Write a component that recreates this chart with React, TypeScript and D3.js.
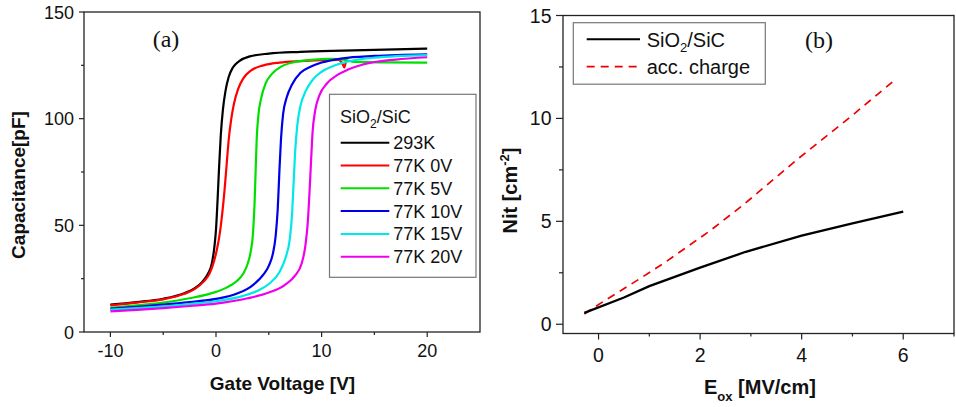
import React from "react";
import * as d3 from "d3";

// ---------- Panel (a) data: C-V curves [gate voltage V, capacitance pF] ----------
const seriesNamesA = ["293K", "77K 0V", "77K 5V", "77K 10V", "77K 15V", "77K 20V"];
const seriesColorsA = ["#000000", "#ff0000", "#00e000", "#0000e8", "#00e8e8", "#ee00ee"];

const cv293K: [number, number][] = [
  [-10, 12.8], [-7.5, 14.0], [-5, 15.6], [-3, 18.2], [-2, 20.5], [-1.3, 23.5], [-0.8, 27], [-0.4, 32],
  [-0.15, 40], [0, 48], [0.15, 62], [0.3, 78], [0.45, 92], [0.65, 104], [0.9, 113], [1.2, 119.5],
  [1.6, 124], [2.2, 127], [3.2, 129.2], [5, 130.5], [8, 131.3], [12, 131.9], [16, 132.4], [20, 132.8],
];
const cv77K0V: [number, number][] = [
  [-10, 12.5], [-7.5, 13.8], [-5, 15.3], [-3, 17.9], [-2, 20.2], [-1.2, 23.5], [-0.6, 27.5], [-0.2, 33],
  [0.1, 39], [0.35, 46], [0.6, 56], [0.8, 66], [1.0, 78], [1.2, 90], [1.45, 100], [1.7, 107], [2.1, 114],
  [2.6, 119], [3.3, 122.5], [4.5, 125], [6, 126.3], [8, 127], [10, 127.4], [11.6, 127.6], [12.0, 125.5],
  [12.15, 124], [12.3, 126.8],
];
const cv77K5V: [number, number][] = [
  [-10, 11.3], [-7.5, 12.5], [-5, 13.8], [-2.5, 15.8], [0, 18.8], [1, 20.8], [2, 24], [2.6, 27.5], [3.0, 32],
  [3.3, 38], [3.5, 46], [3.65, 60], [3.75, 75], [3.85, 90], [4.0, 101], [4.3, 110], [4.7, 116.5], [5.3, 121],
  [6.2, 124.5], [7.5, 126.6], [9, 127.6], [11, 128], [12.2, 127.6], [13, 126.6], [16, 126.4], [20, 126.3],
];
const cv77K10V: [number, number][] = [
  [-10, 10.9], [-7.5, 11.8], [-5, 12.8], [-2.5, 14], [0, 15.5], [2, 18], [3.5, 22], [4.5, 27], [5, 31],
  [5.4, 37], [5.65, 45], [5.85, 58], [6.0, 75], [6.15, 90], [6.35, 102], [6.7, 110], [7.2, 116], [8, 121.5],
  [9, 124.5], [10, 126.3], [12, 128.3], [15, 129.4], [20, 130.2],
];
const cv77K15V: [number, number][] = [
  [-10, 10.5], [-7.5, 11.2], [-5, 12], [-2.5, 13.1], [0, 14.4], [2.5, 16.8], [4, 19.5], [5, 22.5], [6, 28],
  [6.6, 35], [7.0, 44], [7.2, 55], [7.35, 70], [7.5, 85], [7.7, 97], [8, 106], [8.5, 113], [9.2, 118.5],
  [10, 122], [11, 124.5], [12.5, 126.8], [15, 128.6], [20, 129.8],
];
const cv77K20V: [number, number][] = [
  [-10, 9.7], [-7.5, 10.4], [-5, 11.2], [-2.5, 12.2], [0, 13.3], [3, 15.8], [5, 18.5], [6.5, 22], [7.5, 26.5],
  [8.1, 32], [8.45, 40], [8.7, 52], [8.85, 65], [9.0, 80], [9.15, 94], [9.4, 104], [9.8, 111], [10.5, 116.5],
  [11.5, 120.5], [12.5, 123], [14, 125.5], [17, 127.7], [20, 128.8],
];
const seriesA = [cv293K, cv77K0V, cv77K5V, cv77K10V, cv77K15V, cv77K20V];

const xTicksA = [-10, 0, 10, 20];
const xMinorA = [-5, 5, 15];
const yTicksA = [0, 50, 100, 150];
const yMinorA = [25, 75, 125];

// ---------- Panel (b) data: Nit vs Eox ----------
const eoxSiC = [-0.28, 0.5, 1, 2, 2.9, 4, 5, 6];
const nitSiC = [0.55, 1.3, 1.85, 2.75, 3.52, 4.3, 4.9, 5.47];
const eoxAcc = [-0.28, 0.085, 0.45, 0.9, 1.3, 2.2, 2.85, 3.96, 4.9, 5.85];
const nitAcc = [0.5, 1.09, 1.65, 2.35, 2.99, 4.55, 5.8, 8.1, 9.95, 11.9];

const xTicksB = [0, 2, 4, 6];
const xMinorB = [1, 3, 5, 7];
const yTicksB = [0, 5, 10, 15];
const yMinorB = [2.5, 7.5, 12.5];

const SANS = "'Liberation Sans', Arial, sans-serif";
const SERIF = "'Liberation Serif', 'Times New Roman', serif";

export default function App() {
  // scales
  const xA = d3.scaleLinear().domain([-12.5, 25]).range([84, 480]);
  const yA = d3.scaleLinear().domain([0, 150]).range([332, 12]);
  const xB = d3.scaleLinear().domain([-0.7, 7]).range([563, 954]);
  const yB = d3.scaleLinear().domain([-0.45, 15]).range([333.5, 15.5]);

  const lineA = d3
    .line<[number, number]>()
    .x((d) => xA(d[0]))
    .y((d) => yA(d[1]))
    .curve(d3.curveMonotoneX);

  const lineB = d3
    .line<[number, number]>()
    .x((d) => xB(d[0]))
    .y((d) => yB(d[1]))
    .curve(d3.curveLinear);

  const siPts = eoxSiC.map((e, i) => [e, nitSiC[i]] as [number, number]);
  const accPts = eoxAcc.map((e, i) => [e, nitAcc[i]] as [number, number]);

  const axisColor = "#222";
  const [ax0, ax1] = xA.range();
  const [ay0, ay1] = yA.range();
  const [bx0, bx1] = xB.range();
  const [by0, by1] = yB.range();

  const legendRowsA = seriesNamesA.map((n, i) => ({ n, c: seriesColorsA[i], y: 142.7 + i * 22.8 }));

  return (
    <svg width={956} height={407} style={{ display: "block", position: "absolute", left: 0, top: 0 }}>
      <rect x={0} y={0} width={956} height={407} fill="#fff" />

      {/* ===== Panel (a) ===== */}
      <g>
        {seriesA.map((s, i) => (
          <path key={i} d={lineA(s) || ""} fill="none" stroke={seriesColorsA[i]} strokeWidth={2.2} />
        ))}
        <rect x={ax0} y={ay1} width={ax1 - ax0} height={ay0 - ay1} fill="none" stroke={axisColor} strokeWidth={1.3} />
        {xTicksA.map((t) => (
          <g key={t}>
            <line x1={xA(t)} x2={xA(t)} y1={ay0} y2={ay0 + 5} stroke={axisColor} strokeWidth={1.2} />
            <text x={xA(t)} y={357} fontFamily={SANS} fontSize={18} textAnchor="middle" fill="#111">
              {t}
            </text>
          </g>
        ))}
        {xMinorA.map((t) => (
          <line key={t} x1={xA(t)} x2={xA(t)} y1={ay0} y2={ay0 + 3} stroke={axisColor} strokeWidth={1.2} />
        ))}
        {yTicksA.map((t) => (
          <g key={t}>
            <line x1={ax0 - 5} x2={ax0} y1={yA(t)} y2={yA(t)} stroke={axisColor} strokeWidth={1.2} />
            <text x={74} y={yA(t) + 6.5} fontFamily={SANS} fontSize={18} textAnchor="end" fill="#111">
              {t}
            </text>
          </g>
        ))}
        {yMinorA.map((t) => (
          <line key={t} x1={ax0 - 3} x2={ax0} y1={yA(t)} y2={yA(t)} stroke={axisColor} strokeWidth={1.2} />
        ))}
        <text x={282.5} y={390} fontFamily={SANS} fontSize={19} fontWeight="bold" textAnchor="middle" fill="#111">
          Gate Voltage [V]
        </text>
        <text
          transform="translate(25,185) rotate(-90)"
          fontFamily={SANS}
          fontSize={19}
          fontWeight="bold"
          textAnchor="middle"
          fill="#111"
        >
          Capacitance[pF]
        </text>
        <text x={166} y={46.5} fontFamily={SERIF} fontSize={24} textAnchor="middle" fill="#111">
          (a)
        </text>

        {/* legend (a) */}
        <rect x={329.5} y={94.3} width={146.5} height={183} fill="#fff" stroke="#777" strokeWidth={1.2} />
        <text x={340} y={123.3} fontFamily={SANS} fontSize={18} fill="#111">
          SiO
          <tspan fontSize={12} dy={5}>2</tspan>
          <tspan dy={-5}>/SiC</tspan>
        </text>
        {legendRowsA.map((r) => (
          <g key={r.n}>
            <line x1={340.7} x2={389.3} y1={r.y} y2={r.y} stroke={r.c} strokeWidth={2} />
            <text x={393.3} y={r.y + 6.5} fontFamily={SANS} fontSize={18} fill="#111">
              {r.n}
            </text>
          </g>
        ))}
      </g>

      {/* ===== Panel (b) ===== */}
      <g>
        <path d={lineB(accPts) || ""} fill="none" stroke="#ee0000" strokeWidth={1.7} strokeDasharray="8,6" />
        <path d={lineB(siPts) || ""} fill="none" stroke="#000" strokeWidth={2.3} />
        <rect x={bx0} y={by1} width={bx1 - bx0} height={by0 - by1} fill="none" stroke={axisColor} strokeWidth={1.3} />
        {xTicksB.map((t) => (
          <g key={t}>
            <line x1={xB(t)} x2={xB(t)} y1={by0} y2={by0 + 6} stroke={axisColor} strokeWidth={1.2} />
            <text x={xB(t)} y={361.5} fontFamily={SANS} fontSize={19.5} textAnchor="middle" fill="#111">
              {t}
            </text>
          </g>
        ))}
        {xMinorB.map((t) => (
          <line key={t} x1={xB(t)} x2={xB(t)} y1={by0} y2={by0 + 3} stroke={axisColor} strokeWidth={1.2} />
        ))}
        {yTicksB.map((t) => (
          <g key={t}>
            <line x1={bx0 - 7} x2={bx0} y1={yB(t)} y2={yB(t)} stroke={axisColor} strokeWidth={1.2} />
            <text x={551.5} y={yB(t) + 7} fontFamily={SANS} fontSize={19.5} textAnchor="end" fill="#111">
              {t}
            </text>
          </g>
        ))}
        {yMinorB.map((t) => (
          <line key={t} x1={bx0 - 4} x2={bx0} y1={yB(t)} y2={yB(t)} stroke={axisColor} strokeWidth={1.2} />
        ))}
        <text x={704} y={394} fontFamily={SANS} fontSize={20} fontWeight="bold" fill="#111">
          E
          <tspan fontSize={13} dy={7}>ox</tspan>
          <tspan dy={-7}> [MV/cm]</tspan>
        </text>
        <text
          transform="translate(517,190.5) rotate(-90)"
          fontFamily={SANS}
          fontSize={20}
          fontWeight="bold"
          textAnchor="middle"
          fill="#111"
        >
          Nit [cm
          <tspan fontSize={13} dy={-8}>-2</tspan>
          <tspan dy={8}>]</tspan>
        </text>
        <text x={819} y={47.5} fontFamily={SERIF} fontSize={24} textAnchor="middle" fill="#111">
          (b)
        </text>

        {/* legend (b) */}
        <rect x={573.3} y={22.7} width={192} height={61.5} fill="#fff" stroke="#777" strokeWidth={1.2} />
        <line x1={586.7} x2={640} y1={39.3} y2={39.3} stroke="#000" strokeWidth={2} />
        <text x={646.7} y={46.5} fontFamily={SANS} fontSize={20} fill="#111">
          SiO
          <tspan fontSize={13} dy={5}>2</tspan>
          <tspan dy={-5}>/SiC</tspan>
        </text>
        <line x1={586.7} x2={640} y1={66.7} y2={66.7} stroke="#ee0000" strokeWidth={1.7} strokeDasharray="8,6" />
        <text x={646.7} y={73.7} fontFamily={SANS} fontSize={20} fill="#111">
          acc. charge
        </text>
      </g>
    </svg>
  );
}
